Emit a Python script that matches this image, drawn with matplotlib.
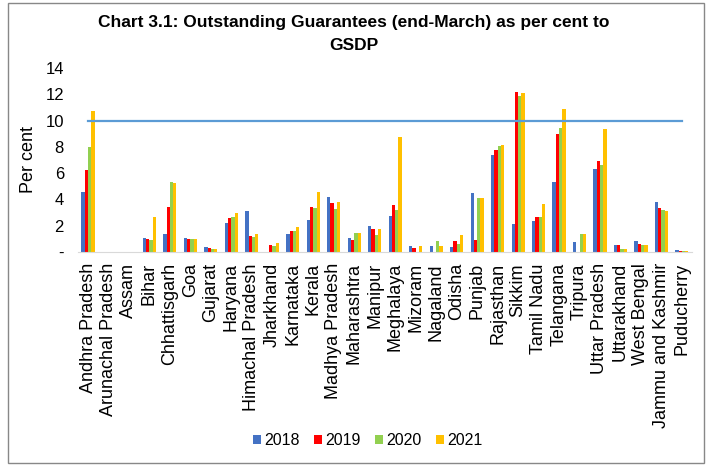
import numpy as np
import matplotlib.pyplot as plt
from matplotlib.patches import Rectangle

plt.rcParams['font.family'] = ['Liberation Sans', 'DejaVu Sans']

states = ['Andhra Pradesh', 'Arunachal Pradesh', 'Assam', 'Bihar', 'Chhattisgarh', 'Goa',
          'Gujarat', 'Haryana', 'Himachal Pradesh', 'Jharkhand', 'Karnataka', 'Kerala',
          'Madhya Pradesh', 'Maharashtra', 'Manipur', 'Meghalaya', 'Mizoram', 'Nagaland',
          'Odisha', 'Punjab', 'Rajasthan', 'Sikkim', 'Tamil Nadu', 'Telangana', 'Tripura',
          'Uttar Pradesh', 'Uttarakhand', 'West Bengal', 'Jammu and Kashmir', 'Puducherry']

y2018 = [4.56, 0, 0, 1.09, 1.4, 1.06, 0.35, 2.2, 3.1, 0, 1.37, 2.45, 4.2, 1.1, 1.97, 2.73,
         0.45, 0.45, 0.35, 4.48, 7.4, 2.15, 2.33, 5.29, 0.73, 6.28, 0.5, 0.86, 3.8, 0.13]
y2019 = [6.2, 0, 0, 1.0, 3.4, 1.0, 0.3, 2.6, 1.2, 0.5, 1.6, 3.4, 3.7, 0.93, 1.72, 3.57,
         0.33, 0, 0.83, 0.9, 7.72, 12.15, 2.66, 8.99, 0, 6.94, 0.53, 0.6, 3.32, 0.1]
y2020 = [8.0, 0, 0, 0.9, 5.3, 0.96, 0.25, 2.7, 1.15, 0.45, 1.6, 3.35, 3.25, 1.47, 1.27, 3.16,
         0, 0.83, 0.6, 4.13, 8.03, 11.9, 2.68, 9.4, 1.37, 6.63, 0.2, 0.53, 3.22, 0.08]
y2021 = [10.7, 0, 0, 2.7, 5.25, 0.96, 0.2, 3.0, 1.35, 0.7, 1.9, 4.55, 3.77, 1.47, 1.72, 8.78,
         0.45, 0.45, 1.3, 4.13, 8.13, 12.08, 3.62, 10.9, 1.39, 9.32, 0.25, 0.56, 3.14, 0.08]
threshold = 10

series = {'2018': y2018, '2019': y2019, '2020': y2020, '2021': y2021}
colors = ['#4472C4', '#FF0000', '#92D050', '#FFC000']

fig = plt.figure(figsize=(7.07, 4.65), dpi=100)
ax = fig.add_axes([0.110, 0.458, 0.869, 0.396])

x = np.arange(len(states))
w = 0.16
for i, (name, vals) in enumerate(series.items()):
    ax.bar(x + (i - 1.5) * w, vals, width=w, color=colors[i], label=name)

# 10 per cent reference line
ax.plot(x, [threshold] * len(x), color='#5B9BD5', lw=1.6)

ax.set_xlim(-0.5, len(states) - 0.5)
ax.set_ylim(0, 14)
ax.set_yticks(range(0, 15, 2))
ax.set_yticklabels(['-'] + [str(v) for v in range(2, 15, 2)], fontsize=12)
ax.set_xticks(x)
ax.set_xticklabels(states, rotation=90, fontsize=13, va='top')
ax.tick_params(length=0, pad=8)
ax.tick_params(axis='y', pad=10)
for s in ['top', 'right', 'left']:
    ax.spines[s].set_visible(False)
ax.spines['bottom'].set_color('#d9d9d9')
ax.set_ylabel('Per cent', fontsize=13, labelpad=6)

fig.suptitle('Chart 3.1: Outstanding Guarantees (end-March) as per cent to\nGSDP',
             fontsize=12.5, fontweight='bold', y=0.968, linespacing=1.65)

fig.legend(loc='lower center', bbox_to_anchor=(0.52, 0.005), ncol=4, frameon=False,
           fontsize=11.5, handlelength=0.5, handleheight=0.5, handletextpad=0.2, columnspacing=0.9)

fig.patches.append(Rectangle((0.011, 0.004), 0.985, 0.99, transform=fig.transFigure,
                             fill=False, edgecolor='#888888', lw=1.0))

plt.savefig('out.png')
